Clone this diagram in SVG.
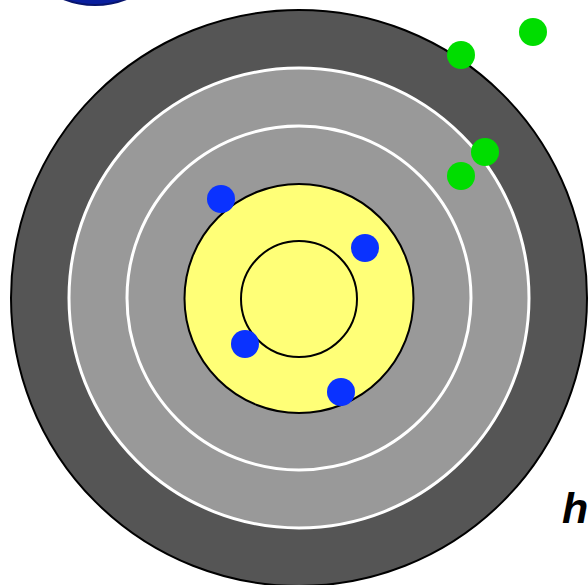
<svg xmlns="http://www.w3.org/2000/svg" width="588" height="585" viewBox="0 0 588 585">
<style>
.blue{fill:#0a32ff}
.green{fill:#00dd00}
.ring{fill:#999999;stroke:#ffffff;stroke-width:3}
.blk{stroke:#000000;stroke-width:2}
</style>
<rect width="588" height="585" fill="#ffffff"/>
<g id="top-blob"><circle cx="95" cy="-81" r="86" fill="#0a1f9e" stroke="#08156e" stroke-width="2"/></g>
<g id="outer"><circle cx="299" cy="298" r="288" fill="#555555" class="blk"/></g>
<g id="ring1"><circle cx="299" cy="298" r="230" class="ring"/></g>
<g id="ring2"><circle cx="299" cy="298" r="172" class="ring"/></g>
<g id="yellow"><circle cx="299" cy="298.5" r="114.5" fill="#ffff77" class="blk"/></g>
<g id="inner"><circle cx="299" cy="299" r="58" fill="#ffff77" class="blk"/></g>
<g id="blue-dots">
<circle class="blue" cx="221" cy="199" r="14"/>
<circle class="blue" cx="365" cy="248" r="14"/>
<circle class="blue" cx="245" cy="344" r="14"/>
<circle class="blue" cx="341" cy="392" r="14"/>
</g>
<g id="green-dots">
<circle class="green" cx="533" cy="32" r="14"/>
<circle class="green" cx="461" cy="55" r="14"/>
<circle class="green" cx="485" cy="152" r="14"/>
<circle class="green" cx="461" cy="176" r="14"/>
</g>
<g id="label"><text x="562" y="523" font-family="Liberation Sans, Arial, sans-serif" font-weight="bold" font-style="italic" font-size="43" fill="#000000">h</text></g>
</svg>
